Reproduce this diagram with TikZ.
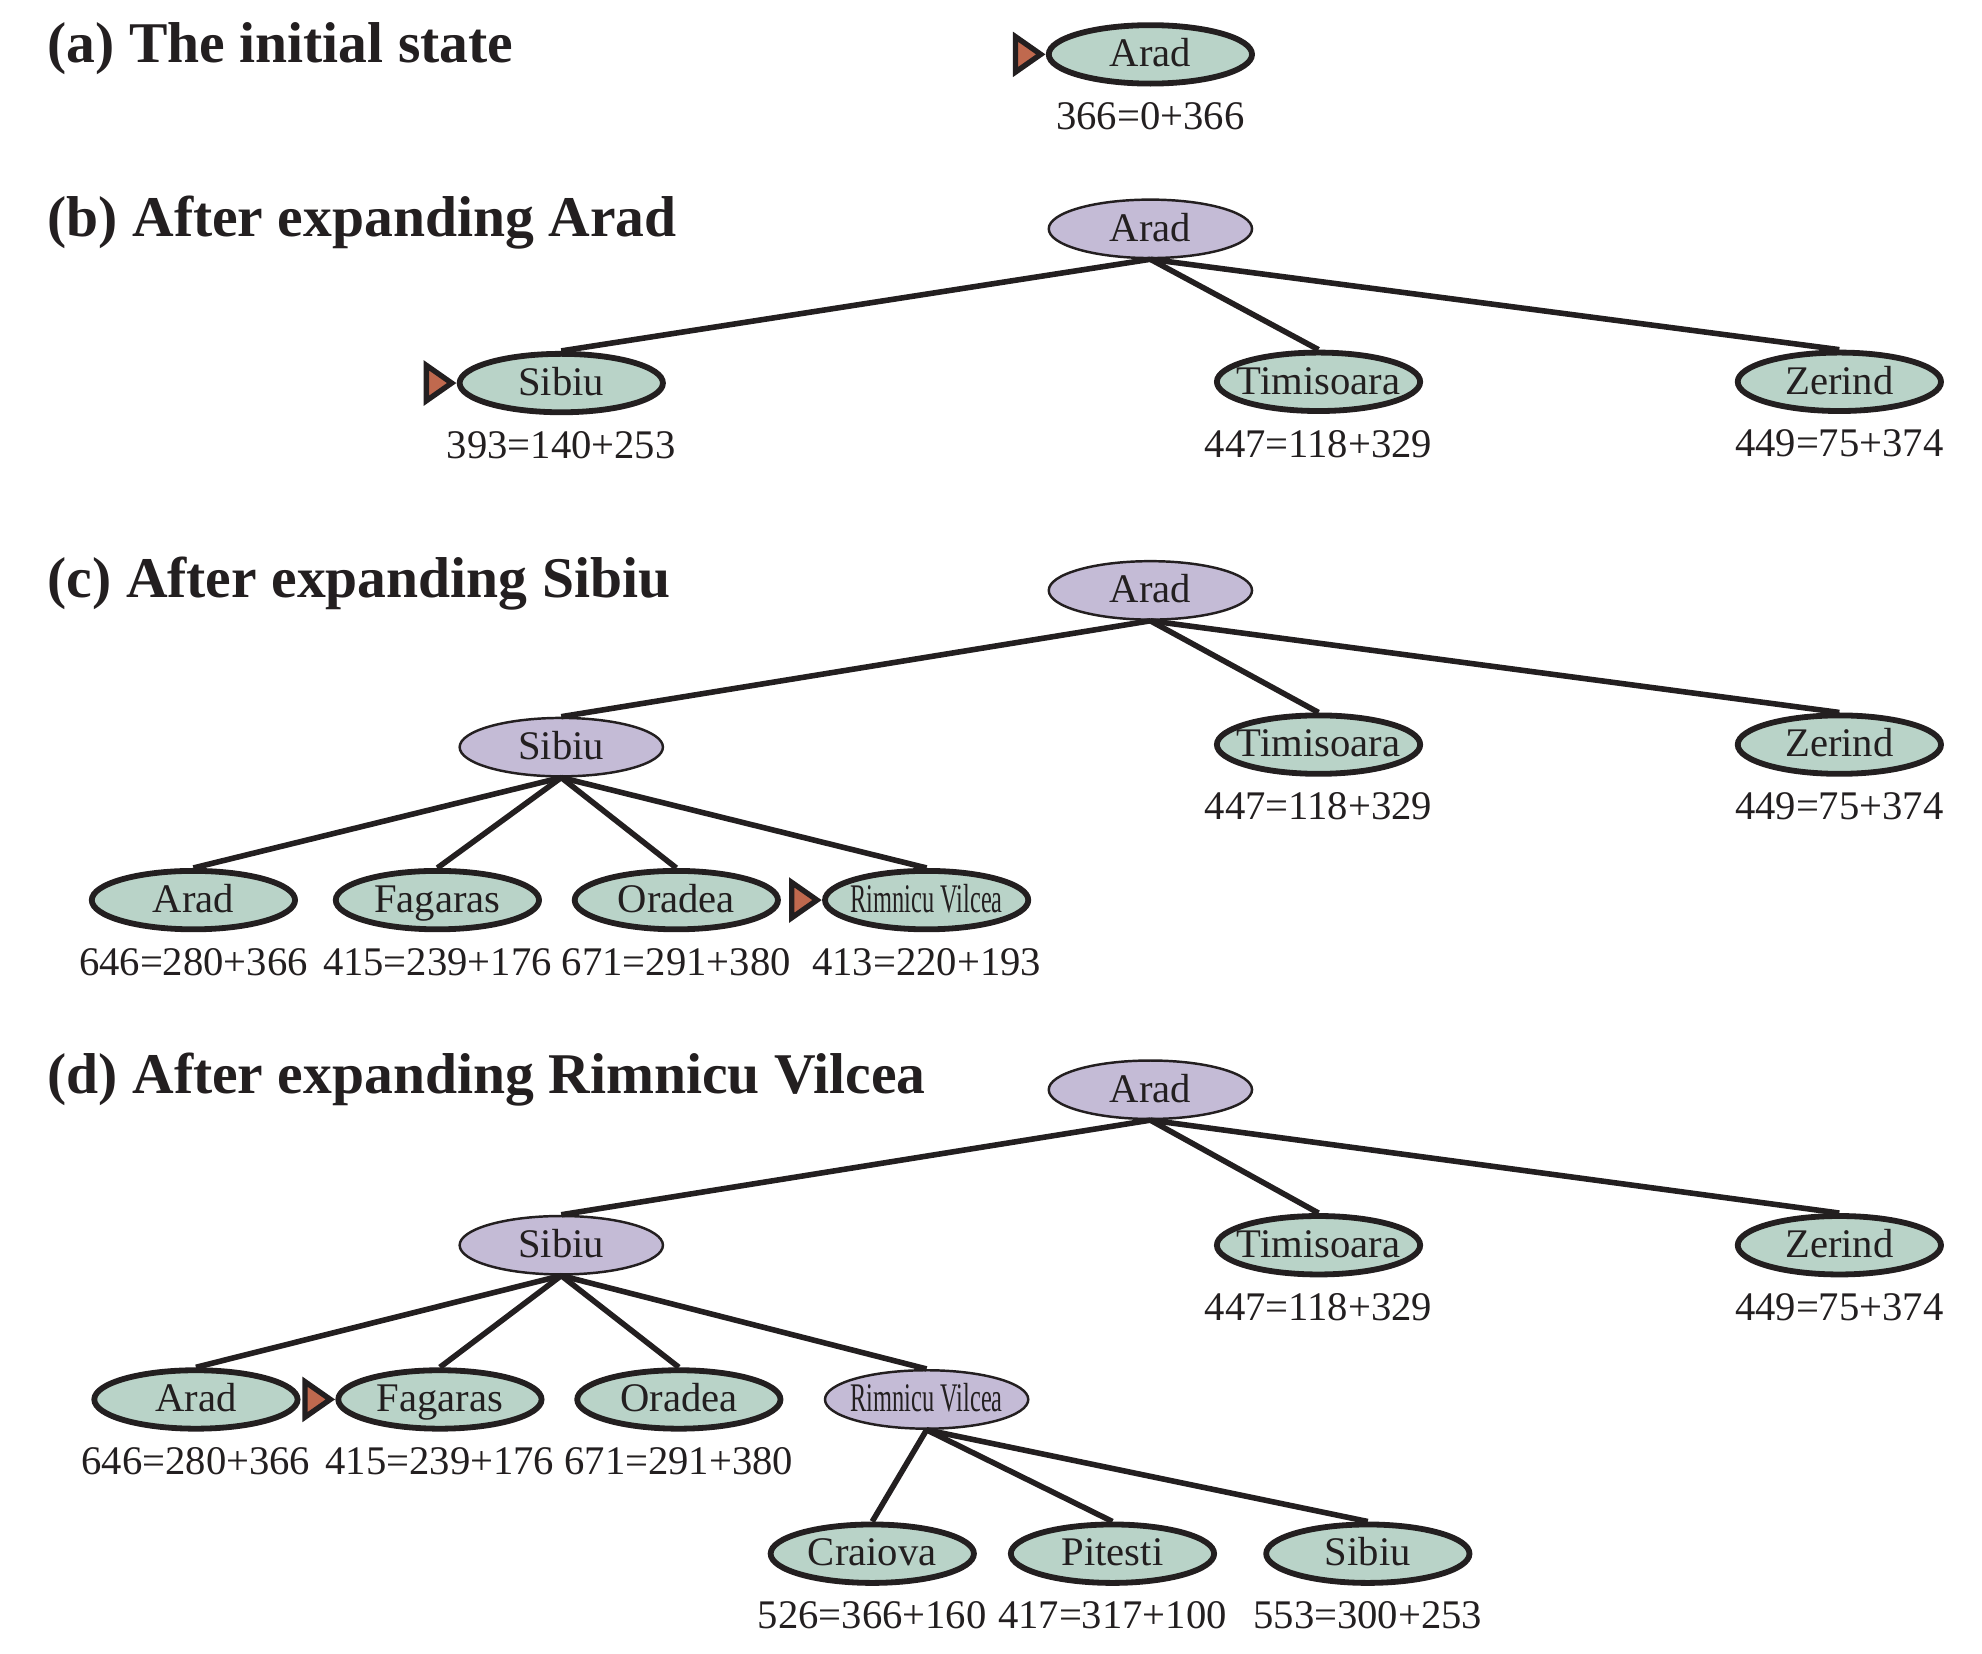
\documentclass[tikz,border=0pt]{standalone}
\usepackage{fontspec}
\setmainfont{Liberation Serif}
\usepackage{graphicx}
\usetikzlibrary{positioning,shapes}

\definecolor{open}{HTML}{B9D3C8}
\definecolor{done}{HTML}{C4BBD6}
\definecolor{mark}{HTML}{C0694E}
\definecolor{ink}{HTML}{231F20}

\tikzset{
  city/.style={ellipse, draw=ink, line width=1.3pt, fill=open, text=ink,
    minimum width=1.6cm, minimum height=0.46cm, inner xsep=-0.1cm, inner ysep=0pt,
    font=\fontsize{9.1}{10}\selectfont, text height=1.45ex, text depth=.25ex},
  expanded/.style={city, fill=done, line width=0.55pt},
  cost/.style={inner sep=0pt, text=ink, font=\fontsize{9.1}{10}\selectfont},
  title/.style={anchor=west, inner sep=0pt, text=ink, font=\fontsize{12.9}{15}\selectfont\bfseries},
  link/.style={line width=1.25pt, draw=ink},
  startmark/.style={fill=mark, draw=ink, line width=1.2pt, line join=miter}
}
\newcommand{\rv}{\scalebox{0.6}[1]{Rimnicu Vilcea}}

\begin{document}
\begin{tikzpicture}
\useasboundingbox (0,0) rectangle (15.6,-13.011);
\begin{scope}[scale=0.995]

% (a)
\node[title](ta) at (0.37,-0.385){(a) The initial state};
\node[city](a0) at (9.10,-0.43){Arad};
\node[cost](a0c)[below = 0.12 of a0]{366=0+366};
\draw[startmark] ([xshift=-0.04cm]a0.west) -- ++(-0.2,0.14) -- ++(0,-0.28) -- cycle;

% (b)
\node[title](tb) at (0.37,-1.76){(b) After expanding Arad};
\node[expanded](b0) at (9.10,-1.81){Arad};
\node[city](b1) at (4.44,-3.03){Sibiu};
\node[city](b2) at (10.43,-3.02){Timisoara};
\node[city](b3) at (14.55,-3.02){Zerind};
\node[cost](b1c)[below = 0.12 of b1]{393=140+253};
\node[cost](b2c)[below = 0.12 of b2]{447=118+329};
\node[cost](b3c)[below = 0.12 of b3]{449=75+374};
\draw[startmark] ([xshift=-0.04cm]b1.west) -- ++(-0.2,0.14) -- ++(0,-0.28) -- cycle;

\path[link]
(b0.south) edge (b1.north)
(b0.south) edge (b2.north)
(b0.south) edge (b3.north);

% (c)
\node[title](tc) at (0.37,-4.62){(c) After expanding Sibiu};
\node[expanded](c0) at (9.10,-4.67){Arad};
\node[expanded](c1) at (4.44,-5.91){Sibiu};
\node[city](c2) at (10.43,-5.89){Timisoara};
\node[city](c3) at (14.55,-5.89){Zerind};
\node[city](c4) at (1.53,-7.12){Arad};
\node[city](c5) at (3.46,-7.12){Fagaras};
\node[city](c6) at (5.35,-7.12){Oradea};
\node[city](c7) at (7.33,-7.12){\rv};
\node[cost](c2c)[below = 0.12 of c2]{447=118+329};
\node[cost](c3c)[below = 0.12 of c3]{449=75+374};
\node[cost](c4c)[below = 0.12 of c4]{646=280+366};
\node[cost](c5c)[below = 0.12 of c5]{415=239+176};
\node[cost](c6c)[below = 0.12 of c6]{671=291+380};
\node[cost](c7c)[below = 0.12 of c7]{413=220+193};
\draw[startmark] ([xshift=-0.04cm]c7.west) -- ++(-0.2,0.14) -- ++(0,-0.28) -- cycle;

\path[link]
(c0.south) edge (c1.north)
(c0.south) edge (c2.north)
(c0.south) edge (c3.north)
(c1.south) edge (c4.north)
(c1.south) edge (c5.north)
(c1.south) edge (c6.north)
(c1.south) edge (c7.north);

% (d)
\node[title](td) at (0.37,-8.54){(d) After expanding Rimnicu Vilcea};
\node[expanded](d0) at (9.10,-8.62){Arad};
\node[expanded](d1) at (4.44,-9.85){Sibiu};
\node[city](d2) at (10.43,-9.85){Timisoara};
\node[city](d3) at (14.55,-9.85){Zerind};
\node[city](d4) at (1.55,-11.07){Arad};
\node[city](d5) at (3.48,-11.07){Fagaras};
\node[city](d6) at (5.37,-11.07){Oradea};
\node[expanded](d7) at (7.33,-11.07){\rv};
\node[city](d8) at (6.90,-12.29){Craiova};
\node[city](d9) at (8.80,-12.29){Pitesti};
\node[city](d10) at (10.82,-12.29){Sibiu};
\node[cost](d2c)[below = 0.12 of d2]{447=118+329};
\node[cost](d3c)[below = 0.12 of d3]{449=75+374};
\node[cost](d4c)[below = 0.12 of d4]{646=280+366};
\node[cost](d5c)[below = 0.12 of d5]{415=239+176};
\node[cost](d6c)[below = 0.12 of d6]{671=291+380};
\node[cost](d8c)[below = 0.12 of d8]{526=366+160};
\node[cost](d9c)[below = 0.12 of d9]{417=317+100};
\node[cost](d10c)[below = 0.12 of d10]{553=300+253};
\draw[startmark] ([xshift=-0.04cm]d5.west) -- ++(-0.2,0.14) -- ++(0,-0.28) -- cycle;

\path[link]
(d0.south) edge (d1.north)
(d0.south) edge (d2.north)
(d0.south) edge (d3.north)
(d1.south) edge (d4.north)
(d1.south) edge (d5.north)
(d1.south) edge (d6.north)
(d1.south) edge (d7.north)
(d7.south) edge (d8.north)
(d7.south) edge (d9.north)
(d7.south) edge (d10.north);

\end{scope}
\end{tikzpicture}
\end{document}
